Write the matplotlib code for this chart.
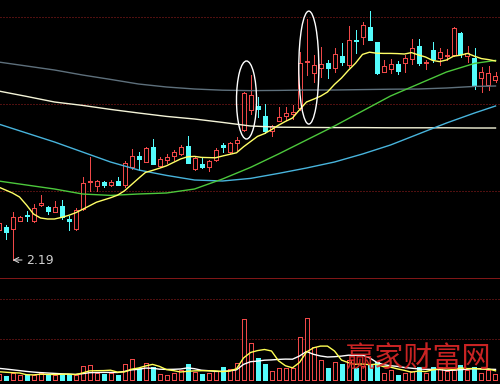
import numpy as np
import matplotlib
matplotlib.use("Agg")
import matplotlib.pyplot as plt
from matplotlib.patches import Ellipse

# daily bars, first one is only half visible at the left edge
days = np.arange(-1, 71)

opens = [2.340, 2.355, 2.345, 2.385, 2.413, 2.383, 2.463, 2.453, 2.430, 2.460,
         2.395, 2.344, 2.444, 2.580, 2.560, 2.580, 2.565, 2.583, 2.563, 2.657,
         2.710, 2.682, 2.757, 2.660, 2.690, 2.710, 2.718, 2.762, 2.645, 2.672,
         2.657, 2.689, 2.763, 2.730, 2.773, 2.840, 2.940, 2.960, 2.910, 2.835,
         2.885, 2.910, 2.918, 2.949, 3.180, 3.127, 3.149, 3.173, 3.149, 3.210,
         3.165, 3.290, 3.307, 3.357, 3.280, 3.132, 3.145, 3.169, 3.174, 3.194,
         3.260, 3.175, 3.239, 3.199, 3.209, 3.215, 3.325, 3.208, 3.200, 3.100,
         3.063, 3.088]
highs = [2.390, 2.365, 2.430, 2.408, 2.435, 2.470, 2.515, 2.460, 2.485, 2.488,
         2.410, 2.450, 2.604, 2.707, 2.588, 2.587, 2.592, 2.603, 2.687, 2.744,
         2.728, 2.757, 2.795, 2.707, 2.720, 2.740, 2.765, 2.808, 2.710, 2.699,
         2.690, 2.752, 2.773, 2.782, 2.803, 3.030, 3.115, 3.003, 2.970, 2.865,
         2.957, 2.957, 2.963, 3.232, 3.395, 3.215, 3.257, 3.190, 3.249, 3.274,
         3.360, 3.340, 3.382, 3.435, 3.281, 3.188, 3.194, 3.187, 3.215, 3.294,
         3.293, 3.189, 3.278, 3.250, 3.245, 3.357, 3.330, 3.260, 3.250, 3.157,
         3.160, 3.130]
lows = [2.325, 2.295, 2.190, 2.383, 2.383, 2.382, 2.462, 2.418, 2.429, 2.393,
        2.340, 2.342, 2.440, 2.535, 2.535, 2.553, 2.560, 2.563, 2.555, 2.643,
        2.640, 2.678, 2.668, 2.656, 2.677, 2.690, 2.715, 2.675, 2.640, 2.649,
        2.633, 2.684, 2.730, 2.725, 2.740, 2.835, 2.919, 2.905, 2.824, 2.808,
        2.883, 2.889, 2.895, 2.940, 3.115, 3.082, 3.105, 3.100, 3.132, 3.165,
        3.157, 3.224, 3.270, 3.289, 3.120, 3.130, 3.127, 3.120, 3.130, 3.170,
        3.163, 3.145, 3.178, 3.165, 3.190, 3.212, 3.205, 3.180, 3.045, 3.032,
        3.038, 3.080]
closes = [2.375, 2.330, 2.404, 2.403, 2.408, 2.448, 2.475, 2.435, 2.455, 2.403,
          2.385, 2.440, 2.577, 2.583, 2.585, 2.565, 2.580, 2.565, 2.677, 2.710,
          2.693, 2.749, 2.670, 2.695, 2.707, 2.730, 2.754, 2.677, 2.699, 2.657,
          2.685, 2.742, 2.755, 2.774, 2.789, 3.027, 3.013, 2.945, 2.835, 2.860,
          2.904, 2.927, 2.930, 3.177, 3.183, 3.165, 3.169, 3.150, 3.220, 3.178,
          3.290, 3.283, 3.365, 3.290, 3.125, 3.160, 3.170, 3.137, 3.199, 3.249,
          3.173, 3.180, 3.194, 3.229, 3.213, 3.349, 3.218, 3.227, 3.060, 3.130,
          3.125, 3.110]
ma10 = [2.555, 2.540, 2.525, 2.505, 2.465, 2.420, 2.400, 2.395, 2.395, 2.403,
        2.413, 2.426, 2.443, 2.461, 2.479, 2.490, 2.501, 2.514, 2.536, 2.567,
        2.598, 2.628, 2.638, 2.649, 2.661, 2.678, 2.695, 2.706, 2.708, 2.703,
        2.702, 2.701, 2.710, 2.718, 2.726, 2.756, 2.782, 2.808, 2.822, 2.842,
        2.864, 2.883, 2.900, 2.941, 2.980, 2.994, 3.009, 3.030, 3.068, 3.100,
        3.139, 3.174, 3.218, 3.229, 3.224, 3.223, 3.223, 3.222, 3.220, 3.227,
        3.215, 3.205, 3.188, 3.182, 3.190, 3.209, 3.214, 3.223, 3.209, 3.197,
        3.192, 3.185]

# longer averages, read every 4 bars
ma_days = [-1, 3, 7, 11, 15, 19, 23, 27, 31, 35, 39, 43, 47, 51, 55, 59, 63, 67, 70]
ma_green = [2.585, 2.565, 2.545, 2.520, 2.513, 2.520, 2.525, 2.545, 2.595, 2.653,
            2.720, 2.790, 2.860, 2.935, 3.010, 3.070, 3.130, 3.173, 3.188]
ma_blue = [2.870, 2.825, 2.780, 2.730, 2.680, 2.640, 2.613, 2.590, 2.585, 2.598,
           2.623, 2.650, 2.680, 2.720, 2.765, 2.820, 2.875, 2.925, 2.960]
ma_white = [3.035, 3.008, 2.980, 2.963, 2.943, 2.925, 2.908, 2.895, 2.878, 2.860,
            2.854, 2.853, 2.852, 2.852, 2.851, 2.851, 2.851, 2.850, 2.850]
ma_gray = [3.180, 3.160, 3.140, 3.115, 3.093, 3.070, 3.055, 3.045, 3.039, 3.037,
           3.038, 3.040, 3.040, 3.042, 3.044, 3.045, 3.050, 3.058, 3.060]

# volume in thousand lots
volumes = [6, 4, 6.7, 5, 5, 5, 7.3, 5.7, 4.7, 6,
           5.7, 4.7, 14, 15, 7.3, 6, 6.7, 4.7, 15.7, 21,
           11.7, 16.7, 12.7, 5.7, 5, 6.7, 10, 16, 7.7, 6,
           6.7, 9, 12.7, 10.7, 16.7, 60.7, 36.7, 22.3, 16, 9.3,
           11.7, 11.7, 12.3, 42.7, 61.7, 32.7, 20, 12.3, 18.3, 16,
           20, 11.7, 14, 15, 18.3, 7.3, 10, 5, 7.3, 9.3,
           13.3, 7.3, 13.3, 12.7, 9.3, 10, 15, 10, 13.3, 6.7,
           10, 6]
vol_ma5 = [8.3, 7.8, 7.3, 7.0, 5.3, 5.1, 5.8, 5.6, 5.5, 5.7,
           5.9, 5.4, 7.0, 9.1, 9.3, 9.4, 9.8, 7.9, 8.1, 10.8,
           12.0, 14.0, 15.6, 13.6, 10.4, 9.4, 8.0, 8.7, 9.1, 9.3,
           9.3, 9.1, 8.4, 9.0, 11.2, 22.0, 27.5, 29.4, 30.5, 29.0,
           19.2, 14.2, 12.2, 17.5, 28.0, 32.2, 33.9, 33.9, 29.0, 19.9,
           17.3, 15.7, 16.0, 15.3, 15.8, 13.3, 12.9, 11.1, 9.6, 7.8,
           9.0, 8.4, 10.1, 11.2, 11.2, 10.5, 12.1, 11.4, 11.5, 11.0,
           11.0, 9.2]
vol_ma10 = [11.7, 11.0, 10.2, 9.4, 8.6, 7.9, 7.4, 7.0, 6.6, 6.2,
            5.9, 5.6, 6.3, 7.3, 7.5, 7.6, 7.6, 7.5, 8.6, 10.1,
            10.7, 11.9, 11.8, 10.8, 10.6, 10.7, 11.0, 12.1, 11.3, 9.8,
            9.3, 8.6, 8.6, 9.1, 10.2, 15.6, 18.3, 18.9, 19.8, 20.1,
            20.6, 20.9, 20.8, 24.0, 28.5, 25.7, 24.0, 23.0, 23.3, 23.9,
            24.8, 24.8, 24.9, 22.2, 17.8, 15.3, 14.3, 13.6, 12.5, 11.8,
            11.1, 10.7, 10.6, 10.4, 9.5, 9.8, 10.3, 10.8, 11.4, 11.1,
            10.8, 10.6]

low_label = "2.19"
watermark = "赢家财富网"

UP = "#f04848"
DOWN = "#54fcfc"
GRID = "#a02020"
PX = 0.72  # one pixel in points
BODY = 4 / 7  # 4 px between edge centres -> 5 px wide body

o = np.array(opens)
h = np.array(highs)
l = np.array(lows)
c = np.array(closes)
up = c >= o

fig = plt.figure(figsize=(5, 3.84), dpi=100, facecolor="black")
ax = fig.add_axes([0, 106 / 384, 1, 278 / 384])
vax = fig.add_axes([0, 0, 1, 106 / 384])
for a in (ax, vax):
    a.set_facecolor("black")
    a.set_axis_off()
    # bar centres land on pixel centres (7 px per bar)
    a.set_xlim(-5.5 / 7, 494.5 / 7)
ax.set_ylim(2.10, 3.49)
vax.set_ylim(-4, 102)

# price grid
for lvl in [3.405, 2.970, 2.535]:
    ax.axhline(lvl, color=GRID, lw=PX, ls=(0, (1, 2)), zorder=0)

# candles
top = np.maximum(o, c)
bot = np.minimum(o, c)
ax.vlines(days[up], top[up], h[up], color=UP, lw=PX, antialiased=False, zorder=2)
ax.vlines(days[up], l[up], bot[up], color=UP, lw=PX, antialiased=False, zorder=2)
ax.bar(days[up], top[up] - bot[up], bottom=bot[up], width=BODY,
       facecolor="black", edgecolor=UP, linewidth=PX, antialiased=False, zorder=2)
ax.vlines(days[~up], l[~up], h[~up], color=DOWN, lw=PX, antialiased=False, zorder=2)
ax.bar(days[~up], top[~up] - bot[~up], bottom=bot[~up], width=BODY,
       color=DOWN, edgecolor=DOWN, linewidth=PX, antialiased=False, zorder=2)

# moving averages
ax.plot(ma_days, ma_gray, color="#5e707c", lw=1, zorder=3)
ax.plot(ma_days, ma_white, color="#f4f4d8", lw=1, zorder=3)
ax.plot(ma_days, ma_blue, color="#48b4dc", lw=1, zorder=3)
ax.plot(ma_days, ma_green, color="#4cc83c", lw=1, zorder=3)
ax.plot(days, ma10, color="#ffff66", lw=1, zorder=3)

# lowest price marker
lo_i = int(np.argmin(l))
ax.annotate(low_label, xy=(days[lo_i], l[lo_i]), xytext=(2.95, l[lo_i]),
            color="#d0d0d0", fontsize=9, va="center", ha="left",
            arrowprops=dict(arrowstyle="->", color="#d0d0d0", lw=0.8,
                            shrinkA=1, shrinkB=0))

# hand drawn ellipses
ax.add_patch(Ellipse((34.43, 2.990), 2.86, 0.39, fill=False,
                     edgecolor="white", lw=1.0, zorder=4))
ax.add_patch(Ellipse((43.33, 3.152), 2.86, 0.565, fill=False,
                     edgecolor="white", lw=1.0, zorder=4))

# volume panel
v = np.array(volumes)
vax.axhline(101.6, color="#9a1c1c", lw=1.2)
for lvl in [81, 41]:
    vax.axhline(lvl, color=GRID, lw=PX, ls=(0, (1, 2)), zorder=0)
vax.bar(days[up], v[up], width=BODY, facecolor="black", edgecolor=UP,
        linewidth=PX, antialiased=False, zorder=2)
vax.bar(days[~up], v[~up], width=BODY, color=DOWN, edgecolor=DOWN,
        linewidth=PX, antialiased=False, zorder=2)
vax.plot(days, vol_ma10, color="white", lw=1, zorder=3)
vax.plot(days, vol_ma5, color="#ffff54", lw=1, zorder=3)

fig.text(346 / 500, 25 / 384, watermark, color="#e02828", fontsize=21,
         family=["Noto Sans CJK SC", "DejaVu Sans"], ha="left", va="center",
         alpha=0.9, zorder=5)

fig.savefig("out.png", dpi=100, facecolor="black")
